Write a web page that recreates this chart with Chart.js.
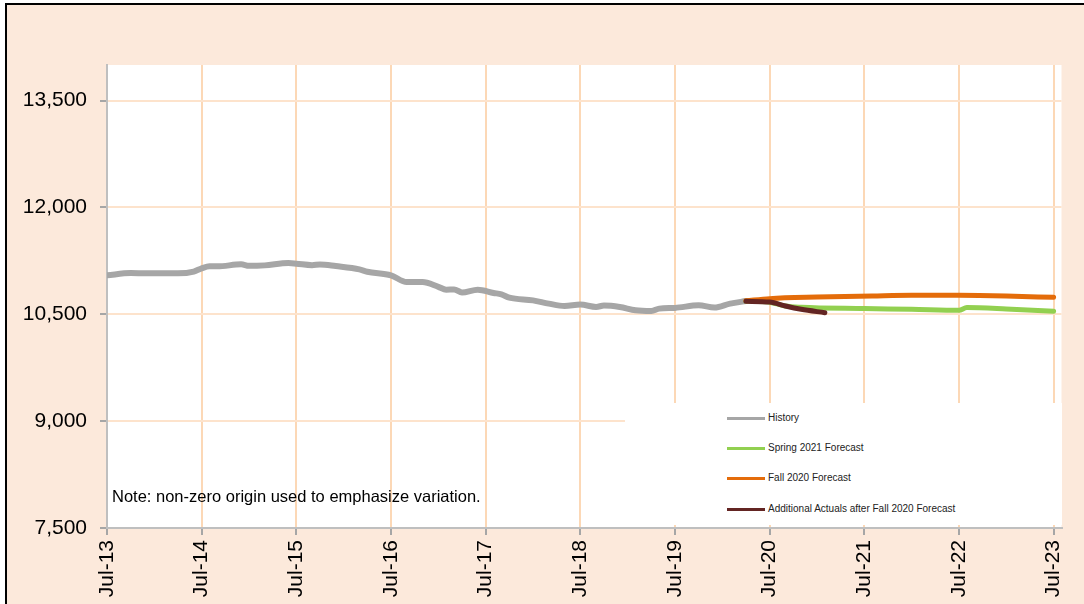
<!DOCTYPE html>
<html>
<head>
<meta charset="utf-8">
<script src="https://cdn.jsdelivr.net/npm/chart.js@4"></script>
<style>
  body { margin: 0; background: #fff; font-family: "Liberation Sans", Arial, sans-serif; }
  #wrap { position: relative; width: 1084px; height: 604px; overflow: hidden; }
  #frame { position: absolute; left: 5px; top: 3px; width: 1200px; height: 700px;
           border-left: 2px solid #000; border-top: 2px solid #000; background: #fce9db; }
  #c { position: absolute; left: 0; top: 0; }
  #note { position: absolute; left: 112px; top: 487px; font-size: 16.5px; color: #000; white-space: nowrap; }
  #legend { position: absolute; left: 625px; top: 403px; width: 437px; height: 122px; background: #fff; }
  .item { position: absolute; left: 102px; height: 12px; font-size: 10px; color: #222; white-space: nowrap; }
  .item span.sw { position: absolute; left: 0; top: 5px; width: 38px; height: 3px; }
  .item span.tx { position: absolute; left: 41px; top: 0; line-height: 12px; }
</style>
</head>
<body>
<div id="wrap">
  <div id="frame"></div>
  <canvas id="c" width="1084" height="604"></canvas>
  <div id="legend"></div>
  <div id="note">Note: non-zero origin used to emphasize variation.</div>
</div>
<script>
// x values are months since Jul-13
const yearLabels = ['Jul-13', 'Jul-14', 'Jul-15', 'Jul-16', 'Jul-17', 'Jul-18', 'Jul-19', 'Jul-20', 'Jul-21', 'Jul-22', 'Jul-23'];
const yTickValues = [7500, 9000, 10500, 12000, 13500];

const historyMonths = [0, 3, 5, 9, 11, 12, 13, 14, 17, 18, 20, 23, 24, 26, 27, 29, 32, 33, 36, 38, 40, 42, 43, 44, 45, 47, 49, 50, 51, 54, 56, 58, 60, 62, 63, 65, 67, 69, 70, 72, 75, 77, 79, 81];
const historyValues = [11047, 11079, 11075, 11075, 11100, 11145, 11173, 11173, 11201, 11180, 11187, 11219, 11211, 11190, 11200, 11177, 11131, 11098, 11047, 10953, 10953, 10886, 10846, 10850, 10806, 10846, 10800, 10780, 10734, 10696, 10650, 10617, 10636, 10603, 10623, 10603, 10556, 10546, 10580, 10590, 10626, 10595, 10650, 10686];

const springMonths = [81, 84, 86, 88, 96, 102, 108, 109, 114, 120];
const springValues = [10686, 10670, 10616, 10598, 10580, 10570, 10556, 10594, 10575, 10542];

const fallMonths = [81, 84, 90, 97, 102, 108, 114, 120];
const fallValues = [10690, 10720, 10742, 10757, 10766, 10766, 10757, 10738];

const actualMonths = [81, 84, 86, 88, 91];
const actualValues = [10682, 10672, 10616, 10570, 10523];

function toPoints(xs, ys) {
    return xs.map((x, i) => ({ x: x, y: ys[i] }));
}

function lineSet(label, xs, ys, color, width, order) {
    return {
        label: label,
        data: toPoints(xs, ys),
        borderColor: color,
        backgroundColor: color,
        borderWidth: width,
        pointRadius: 0,
        cubicInterpolationMode: 'monotone',
        borderCapStyle: 'round',
        borderJoinStyle: 'round',
        order: order
    };
}

const plotBackground = {
    id: 'plotBackground',
    beforeDraw(chart) {
        const a = chart.chartArea;
        chart.ctx.save();
        chart.ctx.fillStyle = '#ffffff';
        chart.ctx.fillRect(a.left, a.top, a.right - a.left, a.bottom - a.top);
        chart.ctx.restore();
    }
};

const ctx = document.getElementById('c');
const chart = new Chart(ctx, {
    type: 'line',
    data: {
        datasets: [
            lineSet('History', historyMonths, historyValues, '#a6a6a6', 6, 3),
            lineSet('Spring 2021 Forecast', springMonths, springValues, '#92d050', 5, 2),
            lineSet('Fall 2020 Forecast', fallMonths, fallValues, '#e46c0a', 5, 1),
            lineSet('Additional Actuals after Fall 2020 Forecast', actualMonths, actualValues, '#632523', 5, 0)
        ]
    },
    plugins: [plotBackground],
    options: {
        responsive: false,
        animation: false,
        layout: { padding: { top: 65, right: 22, left: 0, bottom: 0 } },
        scales: {
            x: {
                type: 'linear',
                min: 0,
                max: 121,
                afterFit: function (scale) { scale.height = 76; },
                border: { color: '#bfbfbf', width: 2 },
                grid: { color: '#fcd8b6', lineWidth: 2, tickLength: 7, tickColor: '#a6a6a6' },
                ticks: {
                    stepSize: 12,
                    includeBounds: false,
                    autoSkip: false,
                    minRotation: 90,
                    maxRotation: 90,
                    padding: 5,
                    color: '#000',
                    font: { family: 'Liberation Sans', size: 21 },
                    callback: function (value) { return yearLabels[value / 12]; }
                }
            },
            y: {
                min: 7500,
                max: 14000,
                afterFit: function (scale) { scale.width = 107; },
                afterBuildTicks: function (scale) {
                    scale.ticks = yTickValues.map(v => ({ value: v }));
                },
                border: { color: '#bfbfbf', width: 2 },
                grid: { color: '#fde3cc', lineWidth: 2, tickLength: 7, tickColor: '#a6a6a6' },
                ticks: {
                    padding: 13,
                    color: '#000',
                    font: { family: 'Liberation Sans', size: 21 },
                    callback: function (value) { return value.toLocaleString('en-US'); }
                }
            }
        },
        plugins: {
            legend: { display: false },
            tooltip: { enabled: false }
        }
    }
});

// legend built from the dataset labels and colours
const legendBox = document.getElementById('legend');
const itemTops = [9, 39, 69, 100];
chart.data.datasets.forEach(function (ds, i) {
    const item = document.createElement('div');
    item.className = 'item';
    item.style.top = itemTops[i] + 'px';
    item.innerHTML = '<span class="sw" style="background:' + ds.borderColor + '"></span><span class="tx">' + ds.label + '</span>';
    legendBox.appendChild(item);
});
</script>
</body>
</html>
